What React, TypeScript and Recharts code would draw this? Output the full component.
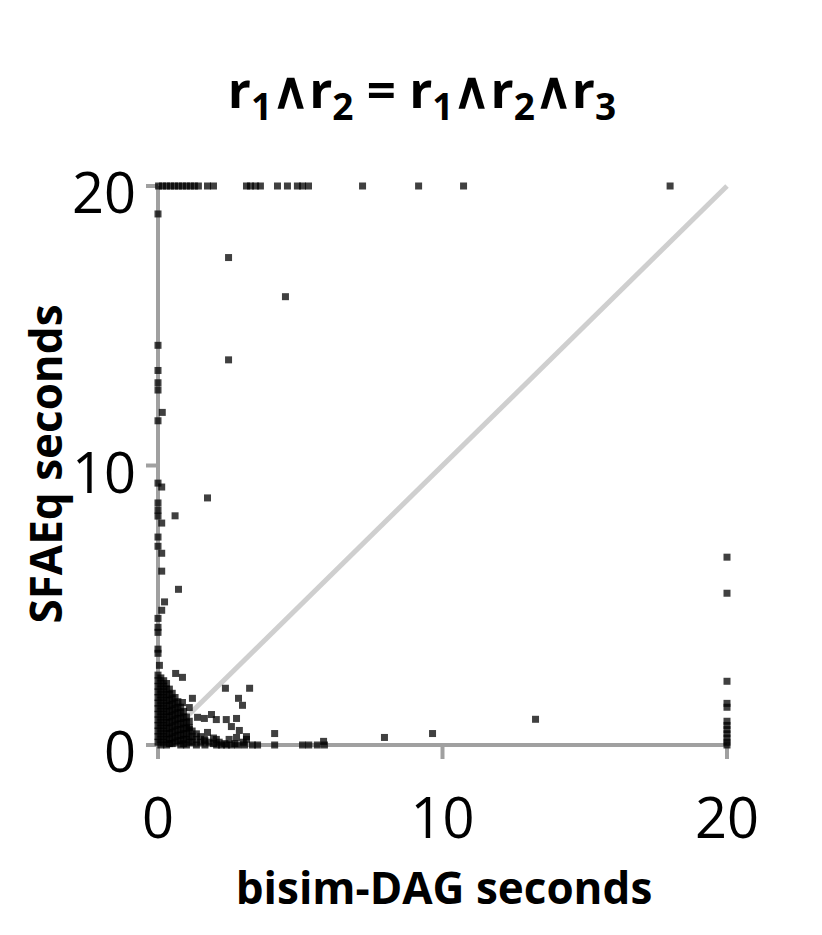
import React from 'react'
import { ScatterChart, Scatter, XAxis, YAxis, ReferenceLine } from 'recharts'

// runs that hit the 20 s timeout in SFAEq (y = 20)
const topRowX = [0.02, 0.16, 0.3, 0.44, 0.58, 0.72, 0.86, 1.0, 1.14, 1.28, 1.42, 1.74, 1.95, 3.11, 3.25, 3.43, 3.6, 4.2, 4.55, 4.9, 5.08, 5.29, 7.19, 9.16, 10.74, 18.0]

// runs that hit the 20 s timeout in bisim-DAG (x = 20)
const rightColumnY = [6.72, 5.43, 2.28, 1.49, 1.35, 0.85, 0.7, 0.55, 0.4, 0.25, 0.1, 0]

// points hugging the y axis
const leftColumn: [number, number][] = [
  [0, 19.0], [0, 14.3], [0, 13.4], [0, 12.96], [0, 12.7], [0.15, 11.9], [0, 11.6],
  [0, 9.37], [0.13, 9.23], [0, 8.66], [0, 8.4], [0, 8.19], [0.13, 7.94], [0, 7.44],
  [0, 7.11], [0.13, 6.86], [0.13, 6.22], [0.23, 5.12], [0.13, 4.82], [0, 4.53],
  [0, 4.21], [0, 4.03], [0, 3.43], [0, 3.28], [0.05, 2.85],
]

// isolated points away from the axes
const scattered: [number, number][] = [
  [2.48, 17.44], [4.48, 16.04], [2.48, 13.78], [1.74, 8.84], [0.6, 8.2], [0.72, 5.57],
  [0.62, 2.56], [0.86, 2.42], [2.37, 2.03], [3.22, 2.03], [2.83, 1.67], [2.97, 1.42],
  [1.21, 1.67], [0.86, 1.52], [1.1, 1.34], [1.39, 0.99], [1.88, 1.09], [1.63, 0.95],
  [2.05, 0.91], [2.4, 0.91], [2.76, 0.95], [1.1, 0.63], [1.74, 0.45], [2.58, 0.66],
  [2.86, 0.52], [3.11, 0.3], [2.76, 0.27], [1.63, 0.2], [2.05, 0.2], [2.5, 0.2],
  [3.11, 0.2], [4.1, 0.41], [4.1, 0], [5.08, 0], [5.3, 0], [5.6, 0], [5.85, 0],
  [5.82, 0.13], [7.96, 0.27], [9.65, 0.41], [13.27, 0.92],
  [2.06, 0], [2.23, 0], [2.41, 0], [2.58, 0], [2.8, 0], [3.04, 0], [3.32, 0], [3.5, 0],
]

// the dense block near the origin, column by column: [x, y values]
const clusterColumns: [number, number[]][] = [
  [0.0, [2.5, 2.3, 2.1, 1.9, 1.7, 1.5, 1.3, 1.1, 0.9, 0.7, 0.5, 0.3, 0.1]],
  [0.1, [2.4, 2.2, 2.0, 1.8, 1.6, 1.4, 1.2, 1.0, 0.8, 0.6, 0.4, 0.2, 0.0]],
  [0.2, [2.3, 2.1, 1.9, 1.7, 1.5, 1.3, 1.1, 0.9, 0.7, 0.5, 0.3, 0.1]],
  [0.3, [2.2, 2.0, 1.8, 1.6, 1.4, 1.2, 1.0, 0.8, 0.6, 0.4, 0.2, 0.0]],
  [0.4, [2.0, 1.8, 1.6, 1.4, 1.2, 1.0, 0.8, 0.6, 0.4, 0.2, 0.05]],
  [0.5, [1.85, 1.65, 1.45, 1.25, 1.05, 0.85, 0.65, 0.45, 0.25, 0.05]],
  [0.6, [1.7, 1.5, 1.3, 1.1, 0.9, 0.7, 0.5, 0.3, 0.1]],
  [0.7, [1.55, 1.35, 1.15, 0.95, 0.75, 0.55, 0.35, 0.15]],
  [0.8, [1.35, 1.15, 0.95, 0.75, 0.55, 0.35, 0.15, 0.0]],
  [0.9, [1.2, 1.0, 0.8, 0.6, 0.4, 0.2, 0.05]],
  [1.0, [1.0, 0.8, 0.6, 0.4, 0.2, 0.0]],
  [1.1, [0.85, 0.55, 0.3, 0.1]],
  [1.2, [0.5, 0.3, 0.1]],
  [1.35, [0.4, 0.2, 0.0]],
  [1.5, [0.3, 0.1]],
  [1.65, [0.15, 0.0]],
  [1.8, [0.1]],
  [1.95, [0.25, 0.05]],
  [2.15, [0.1]],
  [2.35, [0.05]],
  [2.7, [0.05]],
  [3.0, [0.1]],
]

const diagonal = [{ x: 1, y: 1 }, { x: 20, y: 20 }]
const ticks = [0, 10, 20]

const points = [
  ...topRowX.map(x => ({ x, y: 20 })),
  ...rightColumnY.map(y => ({ x: 20, y })),
  ...[...leftColumn, ...scattered].map(([x, y]) => ({ x, y })),
  ...clusterColumns.flatMap(([x, ys]) => ys.map(y => ({ x, y }))),
]

const FONT = '"Open Sans", sans-serif'
const AXIS = '#a0a0a0'

const Marker = ({ cx, cy }: any) => (
  <rect x={cx - 3.5} y={cy - 3.5} width={7} height={7} fill="#000" fillOpacity={0.75} />
)

const XTick = ({ x, y, payload }: any) => (
  <text x={x} y={y} dy={79} textAnchor="middle" fontSize={56} fontFamily={FONT} fill="#000">
    {payload.value}
  </text>
)

const YTick = ({ x, y, payload }: any) => (
  <text x={x} y={y} dy={27} textAnchor="end" fontSize={56} fontFamily={FONT} fill="#000">
    {payload.value}
  </text>
)

const SUB = 12

export default function App() {
  return (
    <div style={{ position: 'absolute', left: 0, top: 0, width: 822, height: 935, background: '#fff' }}>
      <ScatterChart width={822} height={935} margin={{ top: 186, right: 95, bottom: 90, left: 58 }}>
        <XAxis
          type="number"
          dataKey="x"
          domain={[0, 20]}
          ticks={ticks}
          height={100}
          axisLine={{ stroke: AXIS, strokeWidth: 4 }}
          tickLine={{ stroke: AXIS, strokeWidth: 4 }}
          stroke={AXIS}
          tickSize={14}
          tickMargin={0}
          tick={<XTick />}
        />
        <YAxis
          type="number"
          dataKey="y"
          domain={[0, 20]}
          ticks={ticks}
          width={100}
          axisLine={{ stroke: AXIS, strokeWidth: 4 }}
          tickLine={{ stroke: AXIS, strokeWidth: 4 }}
          stroke={AXIS}
          tickSize={12}
          tickMargin={10}
          tick={<YTick />}
        />
        <ReferenceLine segment={diagonal} stroke="#cfcfcf" strokeWidth={5} />
        <Scatter data={points} shape={<Marker />} isAnimationActive={false} />
      </ScatterChart>
      <svg width={822} height={935} style={{ position: 'absolute', left: 0, top: 0, pointerEvents: 'none' }}>
        <text x={422} y={108} textAnchor="middle" fontSize={51} fontWeight="bold" fontFamily={FONT}>
          r<tspan dy={SUB} fontSize={37}>1</tspan>
          <tspan dy={-SUB}>∧r</tspan><tspan dy={SUB} fontSize={37}>2</tspan>
          <tspan dy={-SUB}> = r</tspan><tspan dy={SUB} fontSize={37}>1</tspan>
          <tspan dy={-SUB}>∧r</tspan><tspan dy={SUB} fontSize={37}>2</tspan>
          <tspan dy={-SUB}>∧r</tspan><tspan dy={SUB} fontSize={37}>3</tspan>
        </text>
        <text x={444} y={904} textAnchor="middle" fontSize={44} fontWeight="bold" fontFamily={FONT}>
          bisim-DAG seconds
        </text>
        <text
          x={0}
          y={0}
          transform="translate(62, 464) rotate(-90)"
          textAnchor="middle"
          fontSize={44}
          fontWeight="bold"
          fontFamily={FONT}
        >
          SFAEq seconds
        </text>
      </svg>
    </div>
  )
}
